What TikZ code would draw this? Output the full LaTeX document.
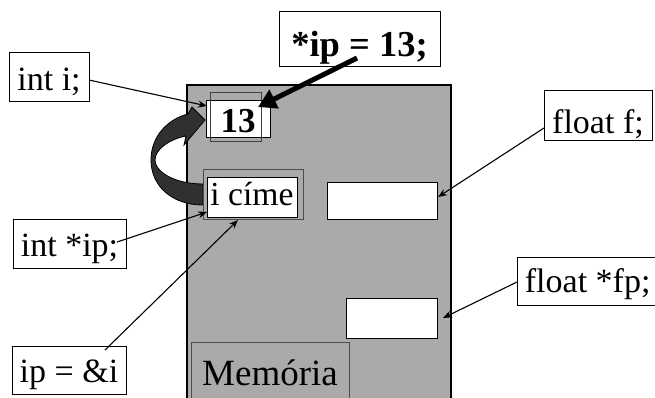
\documentclass[tikz,border=0pt]{standalone}
\usepackage{fontspec}
\setmainfont{Liberation Serif}
\usetikzlibrary{arrows.meta}
\definecolor{memgray}{HTML}{AAAAAA}
\definecolor{bandgray}{HTML}{303030}
\begin{document}
\begin{tikzpicture}[x=1pt,y=-1pt,
  lbl/.style={draw=black, fill=white, line width=0.9pt, inner sep=0pt,
    font=\fontsize{34}{40}\selectfont},
  cell/.style={draw=black, fill=white, line width=1pt, inner sep=0pt},
  frame/.style={draw=black!75, line width=0.7pt, inner sep=0pt},
  thinarrow/.style={draw=black, line width=1.1pt, -{Stealth[length=9pt,width=7pt]}},
  thickarrow/.style={draw=black, line width=5pt, -{Triangle[length=18pt,width=20pt]}},
]
\clip (0,0) rectangle (655,397);
\fill[white] (0,0) rectangle (655,397);
% memory block
\node[draw=black, fill=memgray, line width=1.4pt, inner sep=0pt,
      minimum width=264pt, minimum height=315pt] (mem) at (319,242.5) {};
% Memoria label box
\node[draw=black!70, fill=memgray, line width=0.7pt, inner sep=0pt,
      minimum width=158pt, minimum height=60pt] (memb) at (270,372) {};
\node[anchor=base west, inner sep=0pt, font=\fontsize{37}{44}\selectfont] (memtxt) at (202,385) {Memória};
% curved block arrow
\draw[fill=bandgray, draw=black, line width=0.8pt]
  (203,205) .. controls (172,205) and (151,186) .. (151,160)
  .. controls (151,136) and (168,119) .. (188,114)
  -- (192,107) -- (205,120) -- (184,145) -- (186,136)
  .. controls (170,139) and (155,149) .. (155,160)
  .. controls (155,172) and (175,184) .. (203,184) -- cycle;
% cell i
\node[frame, minimum width=51pt, minimum height=49pt] (iframe) at (235.5,116.5) {};
\node[cell, minimum width=64pt, minimum height=37pt,
      font=\bfseries\fontsize{35}{40}\selectfont, text height=28.5pt, text depth=1.5pt] (ci) at (238,118.5) {13};
\node[frame, minimum width=51pt, minimum height=49pt, fill=none] (iframe2) at (235.5,116.5) {};
% cell ip
\node[draw=black!70, fill=memgray, line width=0.8pt, inner sep=0pt,
      minimum width=100pt, minimum height=50pt] (ipframe) at (253,194) {};
\node[cell, minimum width=90pt, minimum height=40pt,
      font=\fontsize{33.6}{40}\selectfont, text height=23pt, text depth=7pt] (cip) at (252,197) {i címe};
% cells f and fp
\node[cell, minimum width=110pt, minimum height=37pt] (cf) at (382,200.5) {};
\node[cell, minimum width=91pt, minimum height=40pt] (cfp) at (391.5,318) {};
% labels
\node[lbl, minimum width=80pt, minimum height=49pt, text height=33.5pt, text depth=6.5pt] (inti) at (49,76.5) {int i;};
\node[lbl, minimum width=161pt, minimum height=55pt,
      font=\bfseries\fontsize{36.5}{44}\selectfont, text height=43pt, text depth=7pt] (assign) at (359.5,38.5) {*ip = 13;};
\node[lbl, minimum width=113pt, minimum height=49pt, text height=33pt, text depth=7pt] (intip) at (69.5,243.5) {int *ip;};
\node[lbl, minimum width=114pt, minimum height=48pt, text height=32pt, text depth=8pt] (ipaddr) at (69,370) {ip = \&i};
\node[lbl, minimum width=108pt, minimum height=50pt, text height=38pt, text depth=2pt] (floatf) at (598,115) {float f;};
\node[lbl, minimum width=141.5pt, minimum height=48pt, text height=31pt, text depth=9pt] (floatfp) at (587.7,281) {float *fp;};
% connector end points
\coordinate (a1s) at (89,80);   \coordinate (a1e) at (207,106);
\coordinate (a2s) at (357,58);  \coordinate (a2e) at (258,107);
\coordinate (a3s) at (117,242); \coordinate (a3e) at (207,212);
\coordinate (a4s) at (105,350); \coordinate (a4e) at (238,220);
\coordinate (a5s) at (544,128); \coordinate (a5e) at (438,197);
\coordinate (a6s) at (517,282); \coordinate (a6e) at (443,318);
\draw[thinarrow] (a1s) -- (a1e);
\draw[thickarrow] (a2s) -- (a2e);
\draw[thinarrow] (a3s) -- (a3e);
\draw[thinarrow] (a4s) -- (a4e);
\draw[thinarrow] (a5s) -- (a5e);
\draw[thinarrow] (a6s) -- (a6e);
\end{tikzpicture}
\end{document}
